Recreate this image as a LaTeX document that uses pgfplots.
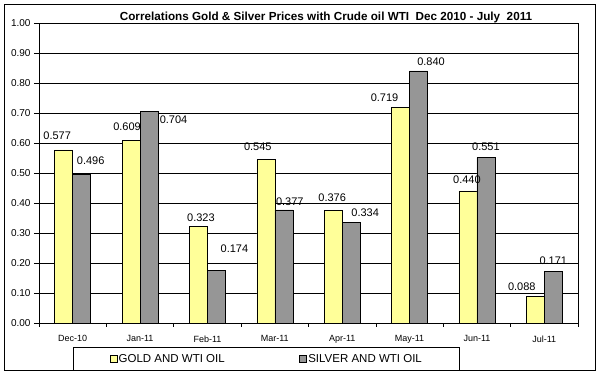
\documentclass[border=0pt]{standalone}
\usepackage{fontspec}
\setmainfont{Liberation Sans}
\usepackage{pgfplots}
\pgfplotsset{compat=1.18}
\usepackage{pgfplotstable}
\definecolor{goldbar}{HTML}{FFFF99}
\definecolor{silverbar}{HTML}{969696}

\pgfplotstableread{
x y dx dy
0 0.577 -6.5 14
1 0.609 -4 14
2 0.323 2.5 8
3 0.545 -8 13
4 0.376 -1 12
5 0.719 -16 10
6 0.440 -1 11
7 0.088 -13.5 9.7
}\golddata
\pgfplotstableread{
x y dx dy
0 0.496 9 13
1 0.704 24.5 -8
2 0.174 18 22.5
3 0.377 6 8.5
4 0.334 14 10.5
5 0.840 12.5 9
6 0.551 0 11
7 0.171 0 11
}\silverdata

\pgfplotsset{
  lblshift/.style={
    visualization depends on={\thisrow{dx} \as \lblx},
    visualization depends on={\thisrow{dy} \as \lbly},
    every node near coord/.append style={anchor=center, xshift=\lblx bp, yshift=\lbly bp},
  },
  sqlegend/.style={
    legend image code/.code={\draw[##1] (0bp,-3.5bp) rectangle (7bp,3.5bp);},
  },
}

\begin{document}
\begin{tikzpicture}
\path[use as bounding box] (0,0) rectangle (601bp,375bp);
\draw[line width=0.8bp] (4bp,5bp) rectangle (595bp,371bp);
\begin{axis}[
  at={(39bp,52bp)}, anchor=south west,
  scale only axis, width=539bp, height=300bp,
  xmin=-0.5, xmax=7.5, ymin=0, ymax=1,
  ybar=0pt, bar width=0.267,
  /pgf/number format/assume math mode=true,
  xtick={0,1,2,3,4,5,6,7},
  xticklabels={Dec-10,Jan-11,Feb-11,Mar-11,Apr-11,May-11,Jun-11,Jul-11},
  major x tick style={draw=none},
  minor xtick={-0.5,0.5,1.5,2.5,3.5,4.5,5.5,6.5,7.5},
  ytick={0,0.1,0.2,0.3,0.4,0.5,0.6,0.7,0.8,0.9,1.0},
  tick align=outside, tick pos=left,
  major tick length=5bp, minor tick length=4bp,
  tick style={black, line width=0.6bp},
  ymajorgrids, grid style={black, line width=0.6bp},
  axis line style={black, line width=0.8bp},
  yticklabel style={/pgf/number format/fixed, /pgf/number format/fixed zerofill, /pgf/number format/precision=2, font=\fontsize{10bp}{12bp}\selectfont},
  xticklabel style={font=\fontsize{9bp}{11bp}\selectfont, yshift=-4bp},
  title={\textbf{Correlations Gold \& Silver Prices with Crude oil WTI\ \ Dec 2010 - July\ \ 2011}},
  title style={at={(axis description cs:0.5325,1)}, anchor=center, yshift=0bp, font=\fontsize{11.7bp}{13bp}\selectfont, inner sep=0pt},
  legend columns=2,
  legend style={at={(axis description cs:0.422,-0.12)}, anchor=center, draw=black, line width=0.8bp,
    inner xsep=36bp, inner ysep=5bp,
    nodes={inner sep=1.5bp, minimum width=0pt, minimum height=0pt},
    font=\fontsize{11.5bp}{13bp}\selectfont,
    /tikz/every even column/.append style={column sep=73bp}},
  nodes near coords={\pgfmathprintnumber[fixed,fixed zerofill,precision=3]{\pgfplotspointmeta}},
  every node near coord/.append style={font=\fontsize{11bp}{13bp}\selectfont, black, inner sep=0pt},
]
\addplot[fill=goldbar, draw=black, line width=0.6bp, lblshift, sqlegend]
  table[x=x, y=y] {\golddata};
\addlegendentry{GOLD AND WTI OIL}
\addplot[fill=silverbar, draw=black, line width=0.6bp, lblshift, sqlegend]
  table[x=x, y=y] {\silverdata};
\addlegendentry{SILVER AND WTI OIL}
\end{axis}
\end{tikzpicture}
\end{document}
